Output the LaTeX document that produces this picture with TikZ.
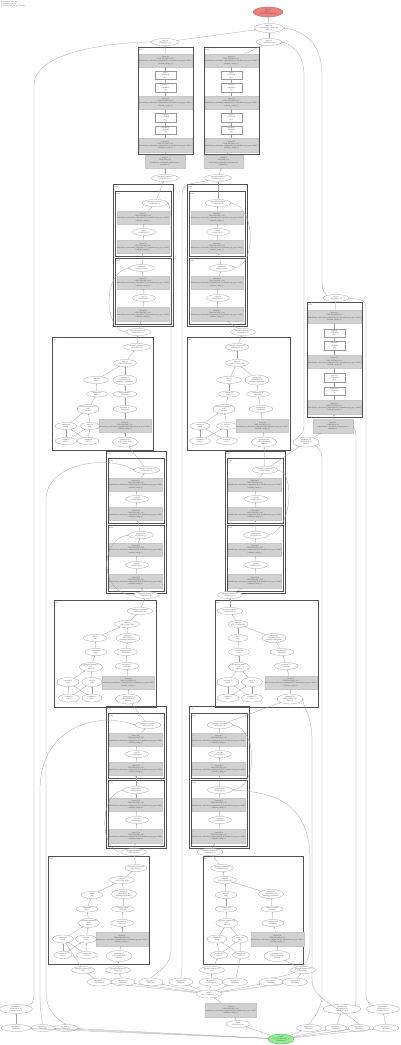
\documentclass[tikz,border=0pt]{standalone}
\usepackage{fontspec}
\setmainfont{Liberation Serif}
\usetikzlibrary{shapes.geometric,arrows.meta}
\definecolor{rootc}{HTML}{F08080}
\definecolor{grnc}{HTML}{90EE90}
\tikzset{
 every node/.style={font=\fontsize{1.8}{2.1}\selectfont, inner sep=0pt, align=center, text=black!75},
 ell/.style={ellipse, draw=black!40, line width=0.25pt, fill=white, minimum width=25pt, minimum height=7pt},
 gbox/.style={rectangle, draw=black!22, line width=0.2pt, fill=black!18, minimum width=50pt, minimum height=13pt},
 wbox/.style={rectangle, draw=black!40, line width=0.25pt, fill=white, minimum width=21pt, minimum height=8pt},
 clus/.style={draw=black!68, line width=0.7pt},
 clab/.style={anchor=north west, align=left, font=\fontsize{1.6}{1.9}\selectfont},
 edge/.style={draw=black!38, line width=0.25pt, -{Stealth[length=1.4pt,width=1.1pt]}},
}
\newcommand\mygtxt[1]{fusion.#1\\f32[8,128,128]\{2,1,0\}\\kind=kLoop, calls=fused\_computation.#1, metadata=\{op\_type="Add"\}\\backend\_config=\{\}}
\newcommand\mygts[1]{fusion.#1\\f32[8,128]\{1,0\}\\kind=kLoop, calls=fused\_computation.#1\\metadata=\{\}}
\newcommand\mybn[5][]{\node[ell,#1] (#2) at (#3,#4) {#5};}
% simple cluster: prefix, left, top, vertical scale, id
\newcommand\mysimp[5]{%
 \draw[clus] (#2,#3) rectangle ++(55,{107*#4});
 \node[clab] (#1lab) at ({#2+0.6},{#3+0.6}) {fusion.#5\\kLoop};
 \node[gbox] (#1g1) at ({#2+27.5},{#3+13.5*#4}) {\mygtxt{#5.1}};
 \node[wbox] (#1b1) at ({#2+27.5},{#3+28.5*#4}) {copy.#5\\f32[64,64]\\\{0,1\}};
 \node[wbox,minimum height=9pt] (#1b2) at ({#2+27.5},{#3+40.5*#4}) {bitcast.#5\\f32[4096]\\\{0\}};
 \node[gbox] (#1g2) at ({#2+27.5},{#3+55.5*#4}) {\mygtxt{#5.2}};
 \node[wbox,minimum height=9pt] (#1b3) at ({#2+27.5},{#3+70.5*#4}) {copy.#5.1\\f32[64,64]\\\{0,1\}};
 \node[wbox] (#1b4) at ({#2+27.5},{#3+83*#4}) {bitcast.#5.1\\f32[4096]\\\{0\}};
 \node[gbox,minimum height=14pt] (#1g3) at ({#2+27.5},{#3+98*#4}) {\mygtxt{#5.3}};
 \foreach \a/\b in {g3/b4,b4/b3,b3/g2,g2/b2,b2/b1,b1/g1} \draw[edge] (#1\a) -- (#1\b);
}
% fusion pair cluster: prefix, left, top, x of e1, x of e3, id
\newcommand\myfus[6]{%
 \draw[clus] (#2,#3) rectangle ++(60,142);
 \draw[clus] ({#2+2},{#3+7}) rectangle ++(56,65);
 \draw[clus] ({#2+2},{#3+74}) rectangle ++(56,66);
 \node[clab] (#1la) at ({#2+0.6},{#3+0.6}) {fusion.#6\\kLoop};
 \node[clab] (#1lb) at ({#2+2.6},{#3+7.6}) {fusion.#6.1\\kLoop};
 \node[clab] (#1lc) at ({#2+2.6},{#3+74.6}) {fusion.#6.2\\kLoop};
 \node[ell,minimum width=26pt] (#1e1) at (#4,{#3+19}) {get-tuple-element.#6\\f32[8,64]\{1,0\}};
 \node[gbox] (#1g1) at ({#2+30},{#3+33.5}) {\mygtxt{#6.1}};
 \node[ell,minimum width=23pt] (#1e2) at ({#2+31},{#3+48}) {copy.#6\\f32[8,64]\{0,1\}};
 \node[gbox] (#1g2) at ({#2+30},{#3+63}) {\mygtxt{#6.2}};
 \node[ell] (#1e3) at (#5,{#3+84}) {parameter.#6\\f32[8,64]\{1,0\}};
 \node[gbox] (#1g3) at ({#2+30},{#3+98.5}) {\mygtxt{#6.3}};
 \node[ell,minimum width=23pt] (#1e4) at ({#2+31},{#3+114}) {copy.#6.1\\f32[8,64]\{0,1\}};
 \node[gbox,minimum height=14pt] (#1g4) at ({#2+30},{#3+130}) {\mygtxt{#6.4}};
 \foreach \a/\b in {g2/e2,e2/g1,g1/e1,g4/e4,e4/g3,g3/e3,e3/g2} \draw[edge] (#1\a) -- (#1\b);
}
\newcommand\mybigedges[1]{\foreach \a/\b in {2/1,3/2,4/2,5/3,6/4,7/5,8/6,g/8,9/7,10/7,11/9,12/10,11/10,12/9,13/g} \draw[edge] (#1\a) -- (#1\b);}
\begin{document}
\begin{tikzpicture}[x=1pt,y=-1pt]
\useasboundingbox (0,0) rectangle (400,1045);
\fill[white] (0,0) rectangle (400,1045);
\node[clab] (hdr) at (1,1) {HloModule jit\_train\_step\\Computation: main.117\\XLA HLO graph, 117 ops, 12 fusions};

% ---------- top ----------
\node[ell,fill=rootc,draw=rootc!70!black,minimum width=30pt,minimum height=10pt] (root) at (268,12) {ROOT\\tuple.117\\(f32[8,128], f32[64,64])};
\mybn[minimum width=29pt,minimum height=9pt]{t1}{269}{28}{tuple.116\\(f32[8,128], f32[64,64])\\index=0}
\mybn[minimum width=27pt]{a0}{165}{42}{copy.114\\f32[8,128]\{1,0\}}
\mybn[minimum width=26pt]{b0}{269}{42}{copy.115\\f32[64,64]\{1,0\}}

\mysimp{ca}{138}{47}{1}{1}
\mysimp{cb}{204}{47}{1}{2}
\node[gbox,minimum width=40pt] (c1o) at (165,161.5) {\mygts{3}};
\node[gbox,minimum width=39pt] (c2o) at (223.5,161.5) {\mygts{4}};
\mybn[minimum width=27pt]{a1}{165}{178}{get-tuple-element.5\\f32[8,128]\{1,0\}}
\mybn[minimum width=27pt]{b1}{218}{178}{get-tuple-element.6\\f32[64,64]\{1,0\}}

% ---------- fusion pairs ----------
\myfus{fa}{113}{184}{155}{142}{7}
\myfus{fb}{187}{184}{218}{222}{8}
\mybn{oa}{138}{332}{get-tuple-element.9\\f32[8,128]\{1,0\}}
\mybn{ob}{243}{332}{get-tuple-element.10\\f32[64,64]\{1,0\}}

% ---------- right cluster ----------
\mybn[minimum width=26pt]{c5top}{336}{298}{copy.11\\f32[64,64]\{1,0\}}
\mysimp{cc}{307}{302}{1.075}{12}
\node[gbox,minimum width=40pt,minimum height=14pt] (c5o) at (333,426) {\mygts{13}};
\mybn[minimum width=26pt,minimum height=10pt]{c5e}{306}{442}{parameter.14\\f32[64,64]\{1,0\}\\index=1}

% ---------- big cluster C6 ----------
\draw[clus] (52,337) rectangle (153,450);
\node[clab] (dlab) at (52.6,337.6) {while.15\\body};
\mybn[minimum width=27pt]{d1}{137}{347}{get-tuple-element.16\\f32[8,128]\{1,0\}}
\mybn[minimum width=23pt]{d2}{125}{363}{tuple.17\\(s32[], f32[8,128])}
\mybn{d3}{96}{380}{add.18\\s32[]}
\mybn[minimum width=24pt,minimum height=10pt]{d4}{125}{380}{multiply.19\\f32[8,128]\{1,0\}\\sharding=\{replicated\}}
\mybn[minimum width=21pt,minimum height=6pt]{d5}{97}{394}{constant.20\\s32[] 1}
\mybn[minimum width=24pt,minimum height=6pt]{d6}{125}{394}{exponential.21\\f32[8,128]}
\mybn[minimum width=22pt,minimum height=9pt]{d7}{88}{409}{get-tuple-element.22\\s32[]\\index=0}
\mybn[minimum width=24pt]{d8}{125}{409}{broadcast.23\\f32[8,128]}
\mybn[minimum width=22pt]{d9}{66}{426}{compare.24\\pred[]}
\mybn[minimum width=20pt]{d10}{90}{426}{select.25\\s32[]}
\node[gbox] (dg) at (125,426) {\mygtxt{26}};
\mybn[minimum width=22pt]{d11}{66}{441}{constant.27\\s32[] 0}
\mybn[minimum width=22pt]{d12}{88}{441}{constant.28\\s32[] 8}
\mybn[minimum height=10pt]{d13}{125}{442}{parameter.29\\(s32[], f32[8,128])\\index=0}
\mybigedges{d}

% ---------- big cluster C7 ----------
\draw[clus] (187,337) rectangle (290,450);
\node[clab] (elab) at (187.6,337.6) {while.30\\body};
\mybn[minimum width=24pt]{e1}{237}{347}{get-tuple-element.31\\f32[64,64]\{1,0\}}
\mybn[minimum width=23pt]{e2}{237}{363}{tuple.32\\(s32[], f32[64,64])}
\mybn{e3}{229}{380}{add.33\\s32[]}
\mybn[minimum width=24pt,minimum height=10pt]{e4}{257}{380}{multiply.34\\f32[64,64]\{1,0\}\\sharding=\{replicated\}}
\mybn[minimum width=21pt,minimum height=6pt]{e5}{229}{394}{constant.35\\s32[] 1}
\mybn[minimum width=23pt,minimum height=6pt]{e6}{258}{394}{exponential.36\\f32[64,64]}
\mybn[minimum width=22pt,minimum height=9pt]{e7}{224}{409}{get-tuple-element.37\\s32[]\\index=0}
\mybn[minimum width=24pt]{e8}{261}{409}{broadcast.38\\f32[64,64]}
\mybn[minimum width=20pt]{e9}{200}{426}{compare.39\\pred[]}
\mybn[minimum width=21pt]{e10}{227}{426}{select.40\\s32[]}
\node[gbox,minimum width=49pt] (eg) at (262.5,426) {\mygtxt{41}};
\mybn[minimum width=21pt]{e11}{200}{441}{constant.42\\s32[] 0}
\mybn[minimum width=21pt]{e12}{227}{441}{constant.43\\s32[] 8}
\mybn[minimum height=10pt]{e13}{264}{442}{parameter.44\\(s32[], f32[64,64])\\index=0}
\mybigedges{e}

% ---------- fusion pairs 2 ----------
\myfus{fc}{106}{451}{147}{141}{45}
\myfus{fd}{225}{451}{265}{256}{46}
\mybn{oc}{146}{595}{get-tuple-element.47\\f32[8,128]\{1,0\}}
\mybn{od}{230}{595}{get-tuple-element.48\\f32[64,64]\{1,0\}}

% ---------- big cluster C10 ----------
\draw[clus] (54,600) rectangle (156,707);
\node[clab] (klab) at (54.6,600.6) {while.49\\body};
\mybn[minimum width=26pt]{k1}{140}{611}{get-tuple-element.50\\f32[8,128]\{1,0\}}
\mybn[minimum width=25pt]{k2}{127}{624}{tuple.51\\(s32[], f32[8,128])}
\mybn[minimum width=24pt]{k3}{95}{638}{add.52\\s32[]}
\mybn[minimum width=24pt,minimum height=9pt]{k4}{128}{638}{multiply.53\\f32[8,128]\{1,0\}\\sharding=\{replicated\}}
\mybn[minimum width=22pt]{k5}{96}{652}{constant.54\\s32[] 1}
\mybn[minimum width=23pt]{k6}{126}{652}{exponential.55\\f32[8,128]}
\mybn[minimum width=23pt,minimum height=9pt]{k7}{91}{667}{get-tuple-element.56\\s32[]\\index=0}
\mybn[minimum width=24pt]{k8}{127}{666}{broadcast.57\\f32[8,128]}
\mybn[minimum width=22pt,minimum height=9pt]{k9}{68}{682}{compare.58\\pred[]}
\mybn[minimum width=20pt,minimum height=9pt]{k10}{92}{682}{select.59\\s32[]}
\node[gbox,minimum width=49pt] (kg) at (128.5,682.5) {\mygtxt{60}};
\mybn[minimum width=21pt,minimum height=8pt]{k11}{69}{698}{constant.61\\s32[] 0}
\mybn[minimum width=20pt,minimum height=8pt]{k12}{92}{698}{constant.62\\s32[] 8}
\mybn[minimum height=10pt]{k13}{128}{699}{parameter.63\\(s32[], f32[8,128])\\index=0}
\mybigedges{k}

% ---------- big cluster C11 ----------
\draw[clus] (215,600) rectangle (318,707);
\node[clab] (mlab) at (215.6,600.6) {while.64\\body};
\mybn[minimum width=26pt]{m1}{230}{611}{get-tuple-element.65\\f32[64,64]\{1,0\}}
\mybn[minimum width=20pt]{m2}{238}{624}{tuple.66\\(s32[], f32[64,64])}
\mybn[minimum width=20pt]{m3}{238}{638}{add.67\\s32[]}
\mybn[minimum width=24pt,minimum height=9pt]{m4}{274}{638}{multiply.68\\f32[64,64]\{1,0\}\\sharding=\{replicated\}}
\mybn[minimum width=21pt]{m5}{239}{652}{constant.69\\s32[] 1}
\mybn[minimum width=24pt]{m6}{282}{652}{exponential.70\\f32[64,64]}
\mybn[minimum width=21pt,minimum height=9pt]{m7}{239}{667}{get-tuple-element.71\\s32[]\\index=0}
\mybn[minimum width=24pt]{m8}{286}{666}{broadcast.72\\f32[64,64]}
\mybn[minimum width=22pt,minimum height=9pt]{m9}{228}{682}{compare.73\\pred[]}
\mybn[minimum width=21pt,minimum height=9pt]{m10}{252}{682}{select.74\\s32[]}
\node[gbox] (mg) at (291,682.5) {\mygtxt{75}};
\mybn[minimum width=22pt,minimum height=8pt]{m11}{228}{698}{constant.76\\s32[] 0}
\mybn[minimum width=21pt,minimum height=8pt]{m12}{252}{698}{constant.77\\s32[] 8}
\mybn[minimum width=26pt,minimum height=10pt]{m13}{290}{699}{parameter.78\\(s32[], f32[64,64])\\index=0}
\mybigedges{m}

% ---------- fusion pairs 3 ----------
\myfus{fe}{106}{706}{148}{136}{79}
\myfus{ff}{189}{706}{220}{220}{80}
\mybn{oe}{134}{852}{get-tuple-element.81\\f32[8,128]\{1,0\}}
\mybn[minimum width=26pt]{of}{210}{852}{get-tuple-element.82\\f32[64,64]\{1,0\}}

% ---------- big cluster C14 ----------
\draw[clus] (48,856) rectangle (149,964);
\node[clab] (qlab) at (48.6,856.6) {while.83\\body};
\mybn[minimum width=22pt]{q1}{136}{868}{get-tuple-element.84\\f32[8,128]\{1,0\}}
\mybn{q2}{122}{880}{tuple.85\\(s32[], f32[8,128])}
\mybn[minimum width=22pt]{q3}{92}{895}{add.86\\s32[]}
\mybn[minimum width=25pt,minimum height=9pt]{q4}{124}{894}{multiply.87\\f32[8,128]\{1,0\}\\sharding=\{replicated\}}
\mybn[minimum width=22pt,minimum height=6pt]{q5}{87}{909}{constant.88\\s32[] 1}
\mybn[minimum width=23pt,minimum height=6pt]{q6}{123}{909}{exponential.89\\f32[8,128]}
\mybn[minimum width=20pt,minimum height=9pt]{q7}{89}{923}{get-tuple-element.90\\s32[]\\index=0}
\mybn[minimum width=23pt]{q8}{122}{923}{broadcast.91\\f32[8,128]}
\mybn[minimum width=21pt,minimum height=8pt]{q9}{63}{939}{compare.92\\pred[]}
\mybn[minimum width=21pt,minimum height=8pt]{q10}{86}{939}{select.93\\s32[]}
\node[gbox,minimum height=14pt] (qg) at (122,939) {\mygtxt{94}};
\mybn[minimum width=18pt]{q11}{63}{955}{constant.95\\s32[] 0}
\mybn[minimum width=21pt]{q12}{87}{955}{constant.96\\s32[] 8}
\mybn[minimum width=26pt,minimum height=11pt]{q13}{119}{956}{parameter.97\\(s32[], f32[8,128])\\index=0}
\mybigedges{q}

% ---------- big cluster C15 ----------
\draw[clus] (203,856) rectangle (303,964);
\node[clab] (rlab) at (203.6,856.6) {while.98\\body};
\mybn[minimum width=23pt]{r1}{222}{868}{get-tuple-element.99\\f32[64,64]\{1,0\}}
\mybn[minimum width=23pt]{r2}{225}{880}{tuple.100\\(s32[], f32[64,64])}
\mybn[minimum width=22pt]{r3}{226}{895}{add.101\\s32[]}
\mybn[minimum width=25pt,minimum height=9pt]{r4}{271}{894}{multiply.102\\f32[64,64]\{1,0\}\\sharding=\{replicated\}}
\mybn[minimum width=22pt,minimum height=6pt]{r5}{226}{909}{constant.103\\s32[] 1}
\mybn[minimum width=22pt,minimum height=6pt]{r6}{272}{909}{exponential.104\\f32[64,64]}
\mybn[minimum width=20pt,minimum height=9pt]{r7}{227}{923}{get-tuple-element.105\\s32[]\\index=0}
\mybn[minimum width=22pt]{r8}{273}{923}{broadcast.106\\f32[64,64]}
\mybn[minimum width=20pt,minimum height=8pt]{r9}{217}{939}{compare.107\\pred[]}
\mybn[minimum width=16pt,minimum height=8pt]{r10}{240}{939}{select.108\\s32[]}
\node[gbox,minimum width=49pt,minimum height=14pt] (rg) at (277.5,939) {\mygtxt{109}};
\mybn[minimum width=17pt]{r11}{219}{955}{constant.110\\s32[] 0}
\mybn[minimum width=17pt]{r12}{241}{955}{constant.111\\s32[] 8}
\mybn[minimum width=26pt,minimum height=11pt]{r13}{277}{956}{parameter.112\\(s32[], f32[64,64])\\index=0}
\mybigedges{r}

% ---------- bottom ----------
\mybn[minimum width=23pt]{s1}{83}{970}{get-tuple-element.113\\s32[]}
\mybn{s2}{118}{970}{get-tuple-element.114\\f32[8,128]}
\mybn{s3}{212}{970}{get-tuple-element.115\\s32[]}
\mybn{s4}{303}{970}{get-tuple-element.116\\f32[64,64]}
\mybn[minimum width=24pt,minimum height=8pt]{u1}{99}{982}{arg\_tuple.0.1\\s32[] index=0}
\mybn[minimum width=24pt,minimum height=8pt]{u2}{123}{982}{arg\_tuple.0.2\\f32[8,128]}
\mybn[minimum width=24pt,minimum height=8pt]{u3}{151}{982}{arg\_tuple.0.3\\f32[8,128]}
\mybn[minimum width=24pt,minimum height=8pt]{u4}{181}{982}{arg\_tuple.0.4\\f32[64,64]}
\mybn[minimum width=24pt,minimum height=8pt]{u5}{211}{982}{arg\_tuple.0.5\\s32[] index=4}
\mybn[minimum width=25pt,minimum height=8pt]{u6}{235}{982}{arg\_tuple.0.6\\f32[64,64]}
\mybn[minimum width=24pt,minimum height=8pt]{u7}{271}{982}{arg\_tuple.0.7\\f32[64,64]}
\mybn[minimum width=25pt,minimum height=8pt]{u8}{295}{982}{arg\_tuple.0.8\\f32[64,64]}
\mybn[minimum width=25pt,minimum height=8pt]{tup}{209}{994}{tuple.0\\(s32[], f32[8,128], ...)}
\node[gbox,minimum width=48pt,minimum height=14pt] (outg) at (231,1010) {\mygtxt{0}};
\mybn[minimum width=24pt]{v}{238}{1024}{copy.0\\f32[8,128]\{1,0\}}
\mybn[minimum width=33pt,minimum height=9pt]{L0}{16}{1009}{broadcast.1.0\\f32[8,128]\{1,0\}\\constant.1.1 (0.5)}
\mybn[minimum width=30pt]{L1}{16}{1028}{arg\_tuple.1.0\\f32[8,128]}
\mybn[minimum width=23pt]{L2}{43}{1028}{arg\_tuple.1.1\\f32[8,128]}
\mybn[minimum width=24pt]{L3}{66}{1028}{arg\_tuple.1.2\\f32[8,128]}
\mybn[minimum width=38pt,minimum height=9pt]{R0}{342}{1009}{broadcast.2.0\\f32[64,64]\{1,0\}\\constant.2.1 (0.5)}
\mybn[minimum width=33pt,minimum height=9pt]{R1}{383}{1009}{broadcast.2.2\\f32[64,64]\{1,0\}\\constant.2.3 (1)}
\mybn{R2}{309}{1028}{arg\_tuple.2.0\\f32[64,64]}
\mybn[minimum width=22pt]{R3}{336}{1028}{arg\_tuple.2.1\\f32[64,64]}
\mybn[minimum width=22pt]{R4}{359}{1028}{arg\_tuple.2.2\\f32[64,64]}
\mybn[minimum width=26pt]{R5}{386}{1028}{arg\_tuple.2.3\\f32[64,64]}
\node[ell,fill=grnc,draw=grnc!60!black,minimum width=26pt,minimum height=10pt] (grn) at (281,1039) {Param\\(s32[], f32[8,128], ...)\\parameter.0};

% ---------- short edges ----------
\foreach \a/\b in {t1/root,a0/t1,b0/t1,cag1/a0,cbg1/b0,c1o/cag3,c2o/cbg3,a1/c1o,b1/c2o,
  fae1/a1,fbe1/b1,oa/fag4,ob/fbg4,d1/oa,e1/ob,fce1/d13,fde1/e13,oc/fcg4,od/fdg4,k1/oc,m1/od,
  fee1/k13,ffe1/m13,oe/feg4,of/ffg4,q1/oe,r1/of,c5o/ccg3,c5e/c5o,ccg1/c5top,
  s2/q13,s4/r13,s3/r11,s1/q9,u1/s1,u2/s2,u5/s3,u8/s4,u6/r12,
  tup/u1,tup/u2,tup/u3,tup/u4,tup/u5,tup/u6,tup/u7,tup/u8,outg/tup,v/outg,
  grn/v,grn/L1,grn/L2,grn/L3,grn/R2,grn/R3,grn/R4,grn/R5,L1/L0,R3/R0,R5/R1,fde1/c5e}
  \draw[edge] (\a) -- (\b);

% ---------- loop curves in fusion clusters ----------
\draw[edge] (oa.west) .. controls (104,330) and (102,272) .. (fae3.west);
\draw[edge] (oc.west) .. controls (100,595) and (98,540) .. (fce3.west);
\draw[edge] (oe.west) .. controls (100,852) and (98,795) .. (fee3.west);
\draw[edge] (fbe3.east) .. controls (256,265) and (256,208) .. (fbe1.east);
\draw[edge] (fde3.east) .. controls (292,530) and (295,474) .. (fde1.east);
\draw[edge] (ffe3.east) .. controls (258,788) and (258,730) .. (ffe1.east);

% ---------- long connectors ----------
\draw[edge] (L0.north east) .. controls (33,1003) .. (34,995) -- (34,85) .. controls (34,50) and (120,42) .. (a0.west);
\draw[edge] (L2.north) .. controls (41,1015) .. (40,1000) -- (40,790) .. controls (40,725) and (100,712) .. (fee1.west);
\draw[edge] (L3.north) .. controls (50,1015) and (46,1005) .. (46,990) -- (46,500) .. controls (46,462) and (110,455) .. (fce1.west);
\draw[edge] (c5top.north west) .. controls (322,290) .. (322,275) -- (322,75) .. controls (322,40) and (300,30) .. (t1.east);
\draw[edge] (c5e.north west) .. controls (304,432) .. (304,420) -- (304,75) .. controls (304,52) and (290,44) .. (b0.east);
\draw[edge] (R0.north east) .. controls (356,1000) .. (356,990) -- (356,445) .. controls (356,432) .. (c5o.east);
\draw[edge] (R1.north west) .. controls (366,1000) .. (366,990) -- (366,315) .. controls (366,300) .. (c5top.east);
\draw[edge] (R2.north) .. controls (318,1012) .. (322,1000) -- (322,465) .. controls (322,452) .. (c5e.south east);
\draw[edge] (R4.north) .. controls (345,1010) and (312,1000) .. (312,980) -- (312,740) .. controls (312,715) and (302,705) .. (m13.east);
\draw[edge] (u3.north) .. controls (160,970) and (171,965) .. (171,950) -- (171,230) .. controls (171,212) .. (fae1.east);
\draw[edge] (u4.north) .. controls (182,970) .. (182,955) -- (182,200) .. controls (182,185) .. (b1.south west);
\draw[edge] (u7.north) .. controls (300,975) and (310,965) .. (310,945) -- (310,860) .. controls (310,800) and (270,792) .. (ffe3.east);
\end{tikzpicture}
\end{document}
